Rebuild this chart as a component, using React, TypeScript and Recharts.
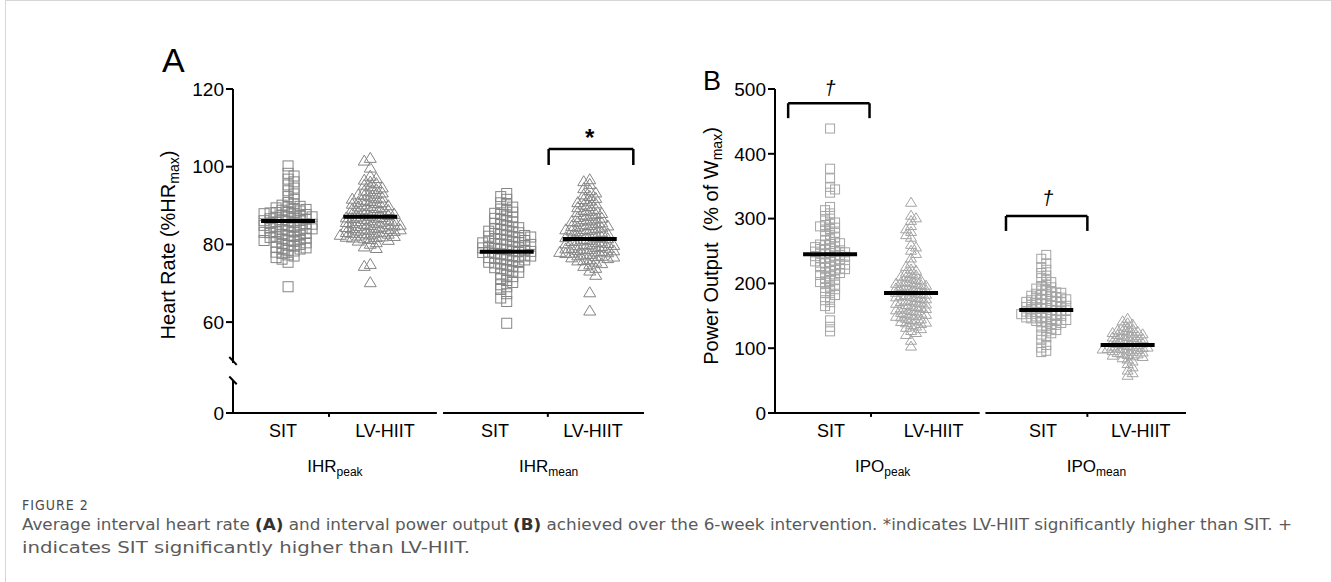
import React from 'react';
import { ScatterChart, Scatter, XAxis, YAxis, ReferenceLine, ReferenceDot } from 'recharts';

const FONT = '"Liberation Sans", Arial, Helvetica, sans-serif';
const CAP_FONT = '"DejaVu Sans", "Liberation Sans Narrow", Roboto, "Noto Sans", sans-serif';

// ---------------- Panel A: interval heart rate (%HRmax) ----------------
const categories = ['SIT', 'LV-HIIT', 'SIT', 'LV-HIIT'];
const groupLabelsA = [{ main: 'IHR', sub: 'peak' }, { main: 'IHR', sub: 'mean' }];
const groupLabelsB = [{ main: 'IPO', sub: 'peak' }, { main: 'IPO', sub: 'mean' }];
const hrTickValues = [0, 60, 80, 100, 120];
const poTickValues = [0, 100, 200, 300, 400, 500];

const hrSitPeak = [
  100.2, 98.3, 97.6, 96.8, 96.1, 95.3, 94.5, 93.8, 93.0, 92.3, 91.6,
  90.8, 90.4, 90.1, 89.8, 89.6, 89.4, 89.2, 89.0, 88.8, 88.6, 88.4, 88.2, 88.1, 88.0,
  87.9, 87.7, 87.5, 87.4, 87.2, 87.1, 87.0, 86.8, 86.6, 86.5, 86.3, 86.2, 86.1, 86.0,
  85.8, 85.6, 85.4, 85.3, 85.2, 85.1, 85.0, 84.9, 84.7, 84.5, 84.4, 84.2, 84.1, 84.0,
  83.8, 83.6, 83.5, 83.3, 83.2, 83.1, 83.0, 82.8, 82.6, 82.4, 82.3, 82.1, 82.0,
  81.8, 81.6, 81.4, 81.2, 81.1, 81.0, 80.8, 80.6, 80.4, 80.2, 80.0,
  79.8, 79.6, 79.3, 79.1, 79.0, 78.8, 78.5, 78.3, 78.0, 77.7, 77.3, 77.0, 76.6, 76.2, 75.4, 69.1,
];
const hrLvPeak = [
  102.4, 101.7, 99.9, 97.8, 97.2, 96.8, 96.3, 95.9, 95.5, 95.1, 94.8, 94.4, 94.0,
  93.8, 93.5, 93.2, 93.0, 92.8, 92.5, 92.2, 92.0, 91.9, 91.6, 91.3, 91.1, 91.0,
  90.8, 90.6, 90.4, 90.2, 90.0, 89.9, 89.7, 89.5, 89.3, 89.1, 89.0, 88.8, 88.6, 88.4, 88.2, 88.1, 88.0,
  87.9, 87.7, 87.5, 87.3, 87.2, 87.1, 87.0, 86.9, 86.7, 86.5, 86.3, 86.2, 86.1, 86.0,
  85.9, 85.7, 85.6, 85.4, 85.3, 85.2, 85.1, 85.0, 84.9, 84.7, 84.6, 84.4, 84.3, 84.2, 84.1, 84.0,
  83.9, 83.7, 83.6, 83.4, 83.3, 83.2, 83.1, 83.0, 82.9, 82.7, 82.6, 82.4, 82.3, 82.2, 82.1, 82.0,
  81.9, 81.7, 81.5, 81.3, 81.1, 80.7, 80.3, 79.6, 79.2, 75.1, 74.6, 70.4,
];
const hrSitMean = [
  93.1, 92.3, 91.6, 90.7, 90.2, 89.6, 89.1, 88.7, 88.3, 88.0, 87.7, 87.3, 87.0, 86.7, 86.4, 86.1,
  85.8, 85.4, 85.1, 84.8, 84.5, 84.3, 84.0, 83.9, 83.6, 83.4, 83.2, 83.0,
  82.8, 82.6, 82.4, 82.3, 82.1, 82.0, 81.9, 81.7, 81.5, 81.3, 81.1, 81.0,
  80.9, 80.7, 80.5, 80.4, 80.2, 80.1, 80.0, 79.9, 79.7, 79.5, 79.3, 79.2, 79.1, 79.0,
  78.8, 78.6, 78.5, 78.3, 78.2, 78.1, 78.0, 77.9, 77.7, 77.5, 77.3, 77.2, 77.1, 77.0,
  76.8, 76.6, 76.4, 76.3, 76.1, 76.0, 75.8, 75.6, 75.4, 75.2, 75.0, 74.7, 74.4, 74.2, 74.0,
  73.7, 73.4, 73.1, 72.8, 72.4, 72.1, 71.7, 71.2, 70.7, 70.2, 69.6, 69.1, 68.4, 67.3, 66.2, 65.3, 59.7,
];
const hrLvMean = [
  96.9, 96.4, 95.7, 94.6, 94.1, 93.5, 93.0, 92.6, 92.1, 91.8, 91.4, 91.0, 90.7, 90.4, 90.0,
  89.7, 89.3, 89.0, 88.8, 88.5, 88.2, 88.0, 87.8, 87.5, 87.2, 87.0,
  86.8, 86.6, 86.3, 86.1, 86.0, 85.8, 85.6, 85.3, 85.1, 85.0,
  84.9, 84.7, 84.5, 84.3, 84.1, 84.0, 83.9, 83.7, 83.5, 83.3, 83.1, 83.0,
  82.8, 82.6, 82.4, 82.3, 82.1, 82.0, 81.9, 81.7, 81.5, 81.3, 81.1, 81.0,
  80.9, 80.7, 80.5, 80.4, 80.2, 80.1, 80.0, 79.9, 79.7, 79.5, 79.3, 79.2, 79.1, 79.0,
  78.9, 78.7, 78.6, 78.4, 78.3, 78.2, 78.1, 78.0, 77.9, 77.7, 77.5, 77.3, 77.2, 77.1, 77.0,
  76.8, 76.6, 76.3, 76.1, 76.0, 75.7, 75.3, 75.0, 74.6, 74.1, 73.4, 72.3, 67.8, 63.1,
];
const hrMeans = [86.0, 87.1, 78.1, 81.4];

// ---------------- Panel B: interval power output (% of Wmax) ----------------
const poSitPeak = [
  439, 377, 362, 349, 345, 340, 318, 313, 308, 304, 300, 297, 294, 292, 290, 288, 286, 284, 281,
  278, 275, 273, 271, 268, 266, 264, 262, 261, 260, 259, 257, 256, 254, 253, 252, 251, 250,
  249, 248, 247, 246, 245, 244, 243, 242, 241, 240, 239, 238, 237, 235, 234, 233, 232, 231, 230,
  229, 228, 226, 225, 224, 223, 222, 221, 219, 217, 216, 214, 213, 211, 208, 206, 204, 202, 201,
  198, 195, 193, 191, 188, 185, 182, 178, 174, 171, 165, 161, 143, 133, 126,
];
const poLvPeak = [
  326, 306, 302, 298, 290, 285, 281, 276, 272, 261, 257, 252, 247, 240, 232, 227, 223, 221,
  218, 216, 214, 212, 211, 209, 207, 206, 204, 203, 202, 201, 200,
  199, 198, 197, 196, 195, 194, 193, 192, 191, 190, 189, 188, 187, 186, 185, 184, 183, 182, 181, 180,
  179, 178, 177, 175, 174, 173, 172, 171, 170, 169, 168, 166, 165, 164, 163, 162, 161, 160,
  159, 158, 156, 155, 154, 153, 152, 151, 150, 149, 147, 146, 145, 143, 142, 141, 140,
  139, 137, 135, 133, 131, 128, 125, 122, 113, 104,
];
const poSitMean = [
  244, 238, 231, 225, 221, 216, 212, 208, 205, 202, 198, 196, 194, 192, 190,
  189, 187, 186, 185.5, 184, 183, 182, 181, 180, 179, 178, 177, 176, 175.5, 175, 174, 173, 172, 171.5, 171, 170,
  169, 168, 167, 166, 165.5, 165, 164, 163.5, 163, 162, 161, 160, 159, 158.5, 158, 157, 156.5, 156, 155, 154,
  153, 152.5, 152, 151, 150, 149, 148, 147.5, 147, 146, 145, 144, 143.5, 142, 141, 140,
  139, 137, 136, 134, 132, 130, 128, 126, 123, 121, 117, 113, 105, 101, 96, 94,
];
const poLvMean = [
  147, 143, 140, 138, 135, 133, 131, 129, 128, 127, 126, 125, 124, 123, 122, 121, 120,
  119, 118, 117, 116, 115, 114, 113, 112, 111, 110,
  109, 108, 107, 106, 105, 104, 103, 102.5, 102, 101, 100.5, 100,
  99.5, 99, 98, 97, 96, 95, 94, 93, 92, 91, 90,
  89, 88, 86, 84, 81, 77, 72, 67, 63, 59,
];
const poMeans = [245, 185, 159, 105];

// ---------------- layout ----------------
const PLOT_W = 411;
const PLOT_H = 324;
const X_MAX = 5;
const PX_X = PLOT_W / X_MAX;
const ZERO_A = 36.6; // axis position where the broken axis shows "0"
const PX_YA = PLOT_H / (120 - ZERO_A);
const PX_YB = PLOT_H / 500;
const colsA = [0.67, 1.67, 3.33, 4.34];
const colsB = [0.67, 1.655, 3.3, 4.29];
const MEAN_HALF_PX = 27;

type Pt = { x: number; y: number };
function swarm(values: number[], center: number, pxY: number, step: number, thresh: number): Pt[] {
  const idx = values.map((_, i) => i).sort((a, b) => values[b] - values[a]);
  const placed: { col: number; py: number }[] = [];
  const out: Pt[] = [];
  let flip = 1;
  for (const i of idx) {
    const py = values[i] * pxY;
    const free = (c: number) => !placed.some((p) => p.col === c && Math.abs(p.py - py) < thresh);
    let col = 0;
    for (let d = 0; d < 80; d++) {
      if (d === 0) {
        if (free(0)) { col = 0; break; }
        continue;
      }
      if (free(d * flip)) { col = d * flip; break; }
      if (free(-d * flip)) { col = -d * flip; break; }
    }
    flip = -flip;
    placed.push({ col, py });
    out.push({ x: center + (col * step) / PX_X, y: values[i] });
  }
  return out;
}

const square = (size: number, color: string) => (p: any) => (
  <rect x={p.cx - size / 2} y={p.cy - size / 2} width={size} height={size} fill="none" stroke={color} strokeWidth={1} />
);
const triangle = (w: number, h: number, color: string) => (p: any) => (
  <polygon
    points={`${p.cx},${p.cy - h / 2} ${p.cx - w / 2},${p.cy + h / 2} ${p.cx + w / 2},${p.cy + h / 2}`}
    fill="none"
    stroke={color}
    strokeWidth={1}
  />
);
const meanBar = (p: any) => (
  <line x1={p.cx - MEAN_HALF_PX} x2={p.cx + MEAN_HALF_PX} y1={p.cy} y2={p.cy} stroke="#000" strokeWidth={4} />
);

type TickItem = { pos: number; kind: 'cat' | 'group'; text: string; sub?: string };
const ticksItemsA: TickItem[] = [
  { pos: 0.608, kind: 'cat', text: categories[0] },
  { pos: 1.24, kind: 'group', text: groupLabelsA[0].main, sub: groupLabelsA[0].sub },
  { pos: 1.849, kind: 'cat', text: categories[1] },
  { pos: 3.187, kind: 'cat', text: categories[2] },
  { pos: 3.84, kind: 'group', text: groupLabelsA[1].main, sub: groupLabelsA[1].sub },
  { pos: 4.38, kind: 'cat', text: categories[3] },
];
const ticksItemsB: TickItem[] = [
  { pos: 0.681, kind: 'cat', text: categories[0] },
  { pos: 1.31, kind: 'group', text: groupLabelsB[0].main, sub: groupLabelsB[0].sub },
  { pos: 1.93, kind: 'cat', text: categories[1] },
  { pos: 3.26, kind: 'cat', text: categories[2] },
  { pos: 3.91, kind: 'group', text: groupLabelsB[1].main, sub: groupLabelsB[1].sub },
  { pos: 4.45, kind: 'cat', text: categories[3] },
];

const makeXTick = (items: TickItem[]) => (props: any) => {
  const { x, y, payload } = props;
  const it = items.find((t) => Math.abs(t.pos - payload.value) < 1e-6);
  if (!it) return <g />;
  if (it.kind === 'cat') {
    return (
      <text x={x} y={y + 24} textAnchor="middle" fontSize={18} fontFamily={FONT} fill="#000">
        {it.text}
      </text>
    );
  }
  return (
    <text x={x} y={y + 59} textAnchor="middle" fontSize={17} fontFamily={FONT} fill="#000">
      {it.text}
      <tspan fontSize={12} dy={4}>{it.sub}</tspan>
    </text>
  );
};

const seg = (x1: number, y1: number, x2: number, y2: number, w = 2, key?: string) => (
  <ReferenceLine
    key={key}
    segment={[{ x: x1, y: y1 }, { x: x2, y: y2 }]}
    stroke="#000"
    strokeWidth={w}
    ifOverflow="visible"
  />
);

const symbolText = (txt: string, size: number, italic: boolean, bold: boolean) => (p: any) => (
  <text
    x={p.cx}
    y={p.cy}
    textAnchor="middle"
    fontSize={size}
    fontStyle={italic ? 'italic' : 'normal'}
    fontWeight={bold ? 'bold' : 'normal'}
    fontFamily={FONT}
    fill="#000"
  >
    {txt}
  </text>
);

function PanelA() {
  const seriesVals = [hrSitPeak, hrLvPeak, hrSitMean, hrLvMean];
  const data = seriesVals.map((v, i) => swarm(v, colsA[i], PX_YA, 6, 4.5));
  const meanData = hrMeans.map((m, i) => ({ x: colsA[i], y: m }));
  const sq = square(10, '#858585');
  const tri = triangle(12, 10, '#858585');
  const yTicks = hrTickValues.map((v) => (v === 0 ? ZERO_A : v));
  return (
    <ScatterChart width={520} height={420} margin={{ top: 29, right: 16, left: 0, bottom: 0 }}>
      <XAxis
        type="number"
        dataKey="x"
        domain={[0, X_MAX]}
        allowDataOverflow
        ticks={ticksItemsA.map((t) => t.pos)}
        interval={0}
        axisLine={false}
        tickLine={false}
        tickSize={0}
        tickMargin={0}
        height={67}
        tick={makeXTick(ticksItemsA)}
      />
      <YAxis
        type="number"
        dataKey="y"
        domain={[ZERO_A, 120]}
        allowDataOverflow
        ticks={yTicks}
        interval={0}
        tickFormatter={(v: number) => (v === ZERO_A ? '0' : String(v))}
        axisLine={false}
        tickLine={{ stroke: '#000', strokeWidth: 2 }}
        tickSize={7}
        tickMargin={2}
        tick={{ fill: '#000', fontSize: 19, fontFamily: FONT }}
        width={93}
      />
      {/* broken y axis */}
      {seg(0, 120, 0, 49.5, 2, 'ya1')}
      {seg(-0.045, 51.0, 0.045, 49.0, 2, 'yb1')}
      {seg(-0.045, 46.0, 0.045, 44.0, 2, 'yb2')}
      {seg(0, 45.0, 0, ZERO_A, 2, 'ya2')}
      {/* split x axis */}
      {seg(0, ZERO_A, 2.48, ZERO_A, 2, 'xa1')}
      {seg(2.555, ZERO_A, X_MAX, ZERO_A, 2, 'xa2')}
      {seg(1.168, ZERO_A, 1.168, ZERO_A - 1.0, 2, 'xt1')}
      {seg(3.83, ZERO_A, 3.83, ZERO_A - 1.0, 2, 'xt2')}
      {/* significance bracket */}
      {seg(3.84, 100.43, 3.84, 104.55, 2.5, 'b1')}
      {seg(3.84, 104.55, 4.87, 104.55, 2.5, 'b2')}
      {seg(4.87, 104.55, 4.87, 100.43, 2.5, 'b3')}
      <ReferenceDot x={4.34} y={105.45} r={0} ifOverflow="visible" shape={symbolText('*', 24, false, true)} />
      {data.map((d, i) => (
        <Scatter key={i} data={d} shape={i % 2 === 0 ? sq : tri} isAnimationActive={false} />
      ))}
      <Scatter data={meanData} shape={meanBar} isAnimationActive={false} />
    </ScatterChart>
  );
}

function PanelB() {
  const seriesVals = [poSitPeak, poLvPeak, poSitMean, poLvMean];
  const data = seriesVals.map((v, i) => swarm(v, colsB[i], PX_YB, 5, 4.5));
  const meanData = poMeans.map((m, i) => ({ x: colsB[i], y: m }));
  const sq = square(9, '#a4a4a4');
  const tri = triangle(11, 9, '#a4a4a4');
  return (
    <ScatterChart width={512} height={420} margin={{ top: 29, right: 16, left: 0, bottom: 0 }}>
      <XAxis
        type="number"
        dataKey="x"
        domain={[0, X_MAX]}
        allowDataOverflow
        ticks={ticksItemsB.map((t) => t.pos)}
        interval={0}
        axisLine={false}
        tickLine={false}
        tickSize={0}
        tickMargin={0}
        height={67}
        tick={makeXTick(ticksItemsB)}
      />
      <YAxis
        type="number"
        dataKey="y"
        domain={[0, 500]}
        allowDataOverflow
        ticks={poTickValues}
        interval={0}
        axisLine={false}
        tickLine={{ stroke: '#000', strokeWidth: 2 }}
        tickSize={7}
        tickMargin={2}
        tick={{ fill: '#000', fontSize: 19, fontFamily: FONT }}
        width={85}
      />
      {seg(0, 500, 0, 0, 2, 'ya')}
      {seg(0, 0, 2.49, 0, 2, 'xa1')}
      {seg(2.56, 0, X_MAX, 0, 2, 'xa2')}
      {seg(1.168, 0, 1.168, -6, 2, 'xt1')}
      {seg(3.8, 0, 3.8, -6, 2, 'xt2')}
      {seg(0.16, 455, 0.16, 478, 2.5, 'b1')}
      {seg(0.16, 478, 1.15, 478, 2.5, 'b2')}
      {seg(1.15, 478, 1.15, 455, 2.5, 'b3')}
      {seg(2.81, 281, 2.81, 304, 2.5, 'c1')}
      {seg(2.81, 304, 3.8, 304, 2.5, 'c2')}
      {seg(3.8, 304, 3.8, 281, 2.5, 'c3')}
      <ReferenceDot x={0.67} y={490.7} r={0} ifOverflow="visible" shape={symbolText('\u2020', 20, true, false)} />
      <ReferenceDot x={3.32} y={321} r={0} ifOverflow="visible" shape={symbolText('\u2020', 20, true, false)} />
      {data.map((d, i) => (
        <Scatter key={i} data={d} shape={i % 2 === 0 ? sq : tri} isAnimationActive={false} />
      ))}
      <Scatter data={meanData} shape={meanBar} isAnimationActive={false} />
    </ScatterChart>
  );
}

export default function App() {
  return (
    <div
      style={{
        position: 'absolute',
        left: 0,
        top: 0,
        width: 1331,
        height: 582,
        background: '#fff',
        overflow: 'hidden',
        fontFamily: FONT,
      }}
    >
      <div
        style={{
          position: 'absolute',
          left: 5,
          top: 0,
          width: 1326,
          height: 582,
          borderLeft: '1px solid #d6d6d6',
          borderTop: '1px solid #d6d6d6',
          boxSizing: 'border-box',
        }}
      />
      <div style={{ position: 'absolute', left: 140, top: 60 }}>
        <PanelA />
      </div>
      <div style={{ position: 'absolute', left: 690, top: 60 }}>
        <PanelB />
      </div>
      <svg width={1331} height={582} style={{ position: 'absolute', left: 0, top: 0, pointerEvents: 'none' }}>
        <text x={162} y={72} fontSize={34} fontFamily={FONT} fill="#000">A</text>
        <text x={703} y={90} fontSize={27} fontFamily={FONT} fill="#000">B</text>
        <text transform="rotate(-90 175 245)" x={175} y={245} textAnchor="middle" fontSize={20} fontFamily={FONT} fill="#000">
          Heart Rate (%HR<tspan fontSize={14} dy={4}>max</tspan><tspan dy={-4}>)</tspan>
        </text>
        <text transform="rotate(-90 718 246)" x={718} y={246} textAnchor="middle" fontSize={20} fontFamily={FONT} fill="#000">
          {'Power Output\u00a0 (% of W'}<tspan fontSize={14} dy={4}>max</tspan><tspan dy={-4}>)</tspan>
        </text>
        <g style={{ fontStretch: 'condensed' }}>
          <text x={22} y={510} fontSize={14} fontFamily={CAP_FONT} fill="#4a4a4a" letterSpacing={1}>FIGURE 2</text>
          <text x={22} y={530} fontSize={16} fontFamily={CAP_FONT} fill="#5a5a5a" textLength={1270} lengthAdjust="spacingAndGlyphs">
            Average interval heart rate <tspan fontWeight="bold" fill="#333">(A)</tspan> and interval power output{' '}
            <tspan fontWeight="bold" fill="#333">(B)</tspan> achieved over the 6-week intervention. *indicates LV-HIIT significantly higher than SIT. +
          </text>
          <text x={22} y={553} fontSize={16} fontFamily={CAP_FONT} fill="#5a5a5a" textLength={448} lengthAdjust="spacingAndGlyphs">
            indicates SIT significantly higher than LV-HIIT.
          </text>
        </g>
      </svg>
    </div>
  );
}
